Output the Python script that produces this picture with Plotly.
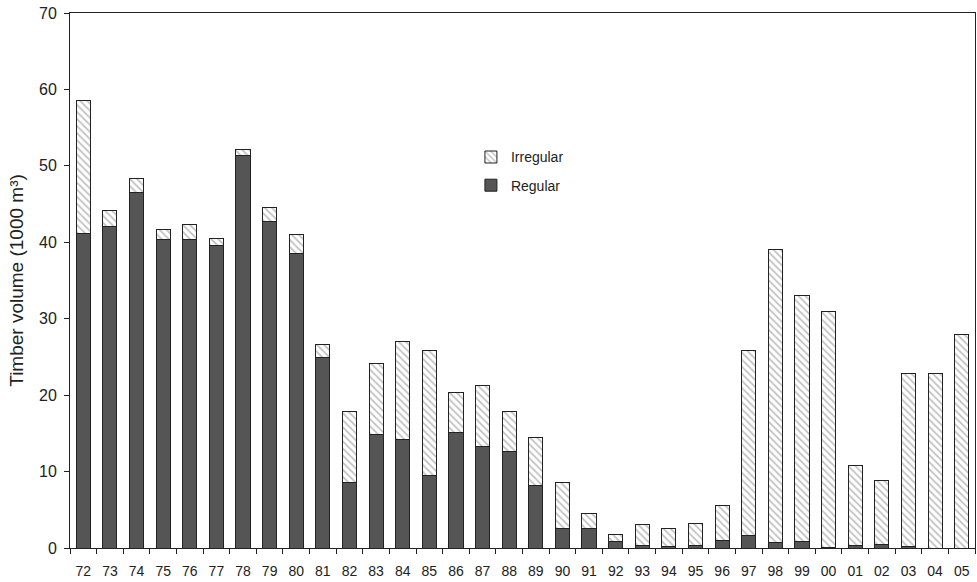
import plotly.graph_objects as go

years = ["72","73","74","75","76","77","78","79","80","81","82","83","84","85","86","87","88","89",
         "90","91","92","93","94","95","96","97","98","99","00","01","02","03","04","05"]
totals = [58.5,44.1,48.3,41.7,42.3,40.5,52.1,44.5,41.0,26.6,17.8,24.2,27.0,25.9,20.4,21.3,17.9,14.4,
          8.6,4.5,1.8,3.1,2.5,3.2,5.6,25.9,39.1,33.0,31.0,10.8,8.8,22.8,22.8,28.0]
regular = [41.2,42.1,46.5,40.4,40.4,39.6,51.3,42.7,38.5,24.9,8.6,14.8,14.2,9.5,15.1,13.3,12.6,8.2,
           2.5,2.6,0.9,0.3,0.2,0.3,1.0,1.7,0.7,0.9,0.1,0.3,0.4,0.2,0.0,0.0]
irregular = [round(t - r, 2) for t, r in zip(totals, regular)]

FONT = "Liberation Sans"

fig = go.Figure()
fig.add_trace(go.Bar(
    x=years, y=regular, name="Regular", legendgroup="r", legendrank=2,
    marker=dict(color="#555555", line=dict(color="#222222", width=1)),
))
fig.add_trace(go.Bar(
    x=years, y=irregular, name="Irregular", legendgroup="i", legendrank=1,
    marker=dict(color="white", line=dict(color="#222222", width=1),
                pattern=dict(shape="\\", fgcolor="#888888", bgcolor="white", size=5, solidity=0.35)),
))

fig.update_layout(
    barmode="stack",
    bargap=0.47,
    width=977, height=582,
    margin=dict(l=70, r=2, t=13, b=34),
    paper_bgcolor="white", plot_bgcolor="white",
    font=dict(family=FONT, size=14, color="#222222"),
    showlegend=True,
    legend=dict(x=0.443, y=0.76, xanchor="left", yanchor="top",
                traceorder="grouped", tracegroupgap=7,
                font=dict(family=FONT, size=14, color="#222222"),
                bgcolor="rgba(0,0,0,0)", itemwidth=30),
    xaxis=dict(type="category", showline=True, linecolor="#222222", linewidth=1, mirror=True,
               ticks="outside", tickson="boundaries", ticklen=5, tickcolor="#222222",
               showgrid=False, tickfont=dict(size=14), ticklabelstandoff=10, automargin=False),
    yaxis=dict(range=[0, 70], dtick=10, showline=True, linecolor="#222222", linewidth=1, mirror=True,
               ticks="outside", ticklen=5, tickcolor="#222222", showgrid=False, zeroline=False,
               tickfont=dict(size=16), automargin=False, ticklabelstandoff=4,
               title=dict(text="Timber volume (1000 m³)", font=dict(size=19), standoff=10)),
)

fig.write_html("out.html", config={"displayModeBar": False},
               post_script="document.body.style.margin='0';document.body.style.overflow='hidden';")
